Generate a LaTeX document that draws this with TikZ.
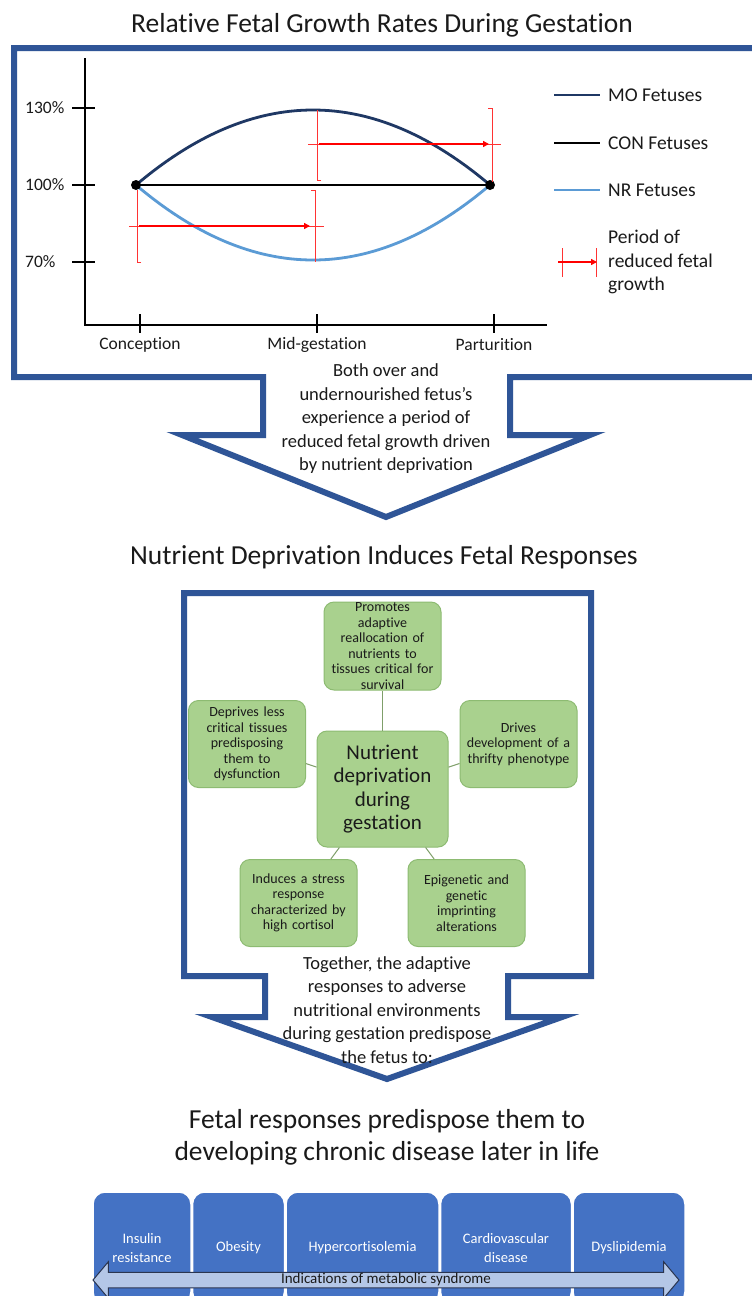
\documentclass[tikz,border=0pt]{standalone}
\usepackage{fontspec}
\setmainfont{Carlito}[Ligatures=NoCommon]
\usetikzlibrary{positioning,shapes.arrows,arrows.meta}
\definecolor{frameblue}{HTML}{2F5597}
\definecolor{moblue}{HTML}{1F3864}
\definecolor{nrblue}{HTML}{5B9BD5}
\definecolor{greenfill}{HTML}{A9D18E}
\definecolor{greenedge}{HTML}{8DBB72}
\definecolor{linkgreen}{HTML}{7F9F6A}
\definecolor{boxblue}{HTML}{4472C4}
\definecolor{arrowfill}{HTML}{B4C7E7}
\definecolor{arrowedge}{HTML}{2A3550}
\definecolor{txt}{HTML}{1A1A1A}
\newcommand{\gw}{117pt}
\newcommand{\gh}{87pt}

\begin{document}
\begin{tikzpicture}[x=1pt,y=-1pt,
    title/.style={font=\fontsize{27.5}{32}\selectfont, align=center, text=txt, inner sep=0pt},
    note/.style={font=\fontsize{18.5}{23.5}\selectfont, align=center, text=txt, inner sep=0pt},
    frame/.style={draw=frameblue, line width=6pt, line join=miter},
    axis/.style={line width=2.5pt},
    ylab/.style={anchor=west, font=\fontsize{17.5}{20}\selectfont, text=txt, inner sep=0pt},
    xlab/.style={font=\fontsize{17.5}{20}\selectfont, text=txt, inner sep=0pt},
    leg/.style={anchor=west, font=\fontsize{19.5}{23.5}\selectfont, text=txt, inner sep=0pt, align=left},
    dot/.style={circle, fill=black, inner sep=0pt, minimum size=10pt},
    mocurve/.style={draw=moblue, line width=2.8pt},
    nrcurve/.style={draw=nrblue, line width=2.8pt},
    conline/.style={draw=black, line width=2.8pt},
    ebar/.style={draw=red!80!white, line width=0.8pt},
    parrow/.style={draw=red, line width=2.5pt, -{Triangle[length=6pt,width=6pt]}},
    gbox/.style={draw=greenedge, fill=greenfill, line width=1pt, rounded corners=10pt,
        minimum width=\gw, minimum height=\gh, inner sep=0pt, align=center, text width=112pt,
        font=\fontsize{14}{15.5}\selectfont, text=txt},
    link/.style={draw=linkgreen, line width=1pt},
    dbox/.style={draw=white, line width=1.5pt, fill=boxblue, rounded corners=12pt,
        minimum height=112pt, inner sep=0pt, align=center, text=white,
        font=\fontsize{14.5}{19.5}\selectfont},
    metarrow/.style={double arrow, draw=arrowedge, fill=arrowfill, line width=1pt,
        minimum height=586pt, minimum width=36pt, double arrow head extend=10.5pt,
        double arrow tip angle=100, inner ysep=0.5pt, text height=10pt, text depth=3.5pt,
        font=\fontsize{15}{18}\selectfont, text=txt}]

    \useasboundingbox (0,0) rectangle (752,1296);
    \clip (0,0) rectangle (752,1296);
    \fill[white] (0,0) rectangle (752,1296);

    % First panel: growth rates
    \node[title] (t1) at (382,25) {Relative Fetal Growth Rates During Gestation};
    \draw[frame] (760,48) -- (14,48) -- (14,377) -- (263,377) -- (263,435) -- (182,435)
        -- (386,517) -- (590,435) -- (510,435) -- (510,377) -- (760,377);

    \draw[axis] (85,58) -- (85,325) -- (547,325);
    \foreach \y/\lab in {108/130\%, 185/100\%, 262/70\%}{
        \draw[axis] (72,\y) -- (95,\y);
        \node[ylab] (yl-\y) at (25,\y) {\lab};
    }
    \foreach \x/\lab in {140/Conception, 317/Mid-gestation, 494/Parturition}{
        \draw[axis] (\x,314) -- (\x,333);
        \node[xlab] (xl-\x) at (\x,345) {\lab};
    }

    \coordinate (start) at (136,185);
    \coordinate (end) at (490,185);
    \draw[mocurve] (start) .. controls (254,85) and (372,85) .. (end);
    \draw[nrcurve] (start) .. controls (254,285) and (372,285) .. (end);
    \draw[conline] (start) -- (end);
    \node[dot] (start-dot) at (start) {};
    \node[dot] (end-dot) at (end) {};

    % Periods of reduced growth
    \draw[ebar] (141,262) -- (137,262) -- (137,190);
    \draw[ebar] (311,190) -- (315,190) -- (315,262);
    \draw[ebar] (129,226) -- (324,226);
    \draw[parrow] (139,226) -- (310,226);

    \draw[ebar] (321,180) -- (317,180) -- (317,110);
    \draw[ebar] (488,108) -- (492,108) -- (492,182);
    \draw[ebar] (308,144) -- (501,144);
    \draw[parrow] (319,144) -- (489,144);

    % Legend
    \draw[mocurve] (554,95) -- (600,95);
    \node[leg] (leg-mo) at (608,95) {MO Fetuses};
    \draw[conline] (554,143) -- (600,143);
    \node[leg] (leg-con) at (608,143) {CON Fetuses};
    \draw[nrcurve] (554,190) -- (600,190);
    \node[leg] (leg-nr) at (608,190) {NR Fetuses};
    \draw[ebar] (562,248) -- (562,277);
    \draw[ebar] (596,248) -- (596,277);
    \draw[parrow] (558,262) -- (597,262);
    \node[leg] (leg-per) at (608,262) {Period of\\reduced fetal\\growth};

    \node[note] (note1) at (386,419) {Both over and\\undernourished fetus’s\\experience a period of\\reduced fetal growth driven\\by nutrient deprivation};

    % Second panel: fetal responses
    \node[title] (t2) at (384,557) {Nutrient Deprivation Induces Fetal Responses};
    \draw[frame] (387,1079) -- (212,1017) -- (265,1017) -- (265,976) -- (184,976) -- (184,593)
        -- (591,593) -- (591,976) -- (508,976) -- (508,1017) -- (562,1017) -- cycle;

    \node[gbox, minimum width=131pt, minimum height=116pt, text width=128pt,
        font=\fontsize{21}{23.5}\selectfont] (ctr) at (382.5,789) {Nutrient\\deprivation\\during\\gestation};
    \node[gbox, minimum height=88pt] (top) at (382.5,646) {Promotes\\adaptive\\reallocation of\\nutrients to\\tissues critical for\\survival};
    \node[gbox] (lft) at (247,744) {Deprives less\\critical tissues\\predisposing\\them to\\dysfunction};
    \node[gbox] (rgt) at (518.5,744) {Drives\\development of a\\thrifty phenotype};
    \node[gbox] (bl) at (298.5,903) {Induces a stress\\response\\characterized by\\high cortisol};
    \node[gbox] (br) at (466.5,903) {Epigenetic and\\genetic\\imprinting\\alterations};
    \foreach \b in {top,lft,rgt,bl,br}
        \draw[link] (ctr) -- (\b);

    \node[note] (note2) at (387,1010) {Together, the adaptive\\responses to adverse\\nutritional environments\\during gestation predispose\\the fetus to:};

    % Third panel: chronic disease
    \node[title] (t3) at (387,1137) {Fetal responses predispose them to\\developing chronic disease later in life};

    \node[dbox, minimum width=98pt] (ins) at (142,1248) {Insulin\\resistance};
    \node[dbox, minimum width=92pt, right=0pt of ins] (obe) {Obesity};
    \node[dbox, minimum width=153pt, right=0pt of obe] (hyp) {Hypercortisolemia};
    \node[dbox, minimum width=131pt, right=0pt of hyp] (car) {Cardiovascular\\disease};
    \node[dbox, minimum width=112pt, right=0pt of car] (dys) {Dyslipidemia};

    \node[metarrow] (meta) at (386,1280) {Indications of metabolic syndrome};
\end{tikzpicture}
\end{document}
